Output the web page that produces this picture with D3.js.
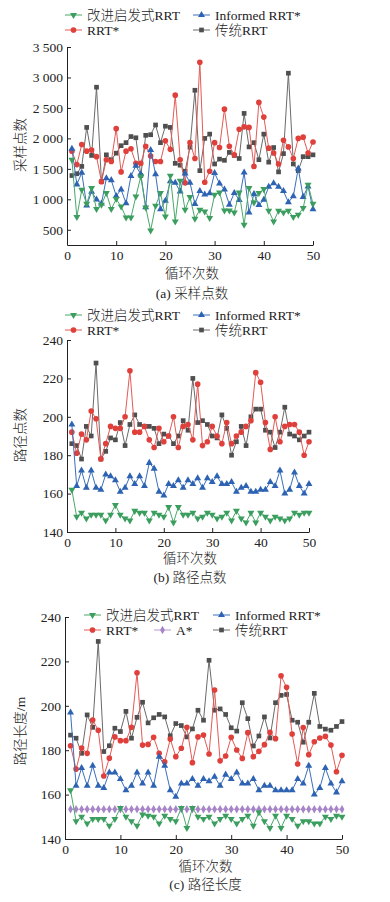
<!DOCTYPE html>
<html>
<head>
<meta charset="utf-8">
<script src="https://cdn.jsdelivr.net/npm/d3@7"></script>
<style>
  body { margin: 0; background: #fff; }
  text { font-family: "Liberation Serif", "Times New Roman", "Noto Sans CJK SC", serif; font-weight: 300; fill: #222; }
</style>
</head>
<body>
<div id="chart"></div>
<script>
const runs = d3.range(1, 51); // 循环次数 1..50

// (a) 采样点数
const aImproved = [1648,709,1156,927,1184,840,910,1102,840,1004,882,702,702,1047,1374,866,489,894,1102,719,1386,637,1304,828,1036,681,828,801,692,1074,1112,817,817,784,1112,583,1184,948,1102,1167,812,637,812,784,812,709,747,856,1238,927];
const aInformed = [1830,1245,1435,900,1125,995,930,1345,1315,1055,1160,935,1383,1550,1410,870,1810,1410,835,975,1295,1273,1130,1425,1270,925,1135,1078,1100,1430,1260,1160,912,1105,990,1440,783,1088,905,992,1205,1265,1205,1135,950,1050,1505,1040,1210,835];
const aRRTstar = [1790,1570,1900,1790,1810,1700,1290,1650,1620,2160,1450,1790,1830,1590,1590,1870,1710,1620,1620,1960,1820,2710,1650,1270,1930,1670,3250,1280,1460,1930,1850,2480,1870,1730,2150,2190,2180,1540,2590,2350,1840,1760,1580,1970,1860,1670,2000,2020,1760,1940];
const aRRT = [1390,1420,1540,2180,1720,2840,1290,1730,1650,1757,1880,1930,2030,2010,1390,2050,2060,2220,1930,2200,2180,1590,1560,1460,1855,2790,1470,2000,2070,1580,1660,1640,1770,1720,1670,2410,1860,1930,1650,2070,1610,1850,1450,1750,3070,1580,1470,1700,1700,1730];

// (b) 路径点数
const bImproved = [162,148,150,147,149,149,149,146,149,154,149,147,146,151,150,150,146,150,149,148,153,145,153,149,149,150,147,148,150,149,147,148,150,146,151,147,145,150,145,150,148,146,148,147,146,147,150,149,150,150];
const bInformed = [196,164,172,163,172,163,162,170,169,167,161,163,169,165,169,164,176,173,161,159,165,164,167,163,167,165,168,163,168,166,169,165,165,166,161,163,164,161,161,162,162,166,164,172,160,162,171,164,160,165];
const bRRTstar = [192,181,191,188,203,199,178,186,195,194,194,200,224,192,192,195,188,184,194,187,190,200,184,195,196,188,217,185,187,195,190,186,197,186,190,192,195,198,223,218,197,183,200,187,195,196,196,192,180,187];
const bRRT = [186,185,178,195,190,228,178,182,189,188,197,185,196,201,196,195,195,194,186,191,190,186,190,198,193,220,197,198,196,190,189,201,194,180,187,195,185,200,204,204,193,192,184,192,205,191,190,188,190,192];

// (c) 路径长度/m
const cImproved = [162,148,150,147,149,149,149,146,149,154,150,148,146,151,150.5,150,147,150.5,149,148,154,145,154,150,149,150,147,149,150.5,149,147,149,150.5,146,152,148,145,150.5,145,150.5,149,146,148,148,147,147,150,149,150.5,150];
const cInformed = [197,164,172,164,173,164,163,170,170,167,162,164,170,165,170,164,177,173,162,159,165,165,167,164,167,166,168,164,169,167,170,165,165,167,162,164,164,162,162,162,162,167,165,173,160,163,172,165,161,166];
const cRRTstar = [182,171.5,181,178.6,193.6,189,168.4,176.4,186,184.3,184.3,190.3,214.9,182.3,182.6,185.8,178.6,174.8,185,177.1,180.9,190.3,174.4,186,186.8,178.3,207.1,175.2,177.4,185.8,180.1,176.3,187.9,177.1,179.5,182.5,188,185.2,213.5,208.3,187.3,173.8,190.2,178,183.8,185.5,186.2,182.3,170.3,177.7];
const cRRT = [186.8,185.4,178.6,195.9,190.3,229,179.4,182,189.9,188.4,197.5,185.4,194.8,201.6,192.3,194.6,196.1,195,186.5,192,191.1,186,189.6,198,193.5,220.5,198,198.6,196.1,190.1,188.6,201.4,194.2,181.9,186.4,195,185.5,201.4,204.7,205.1,193.5,192.6,183.6,192.6,205.6,190.7,189.5,189,190.7,192.9];
const cAstar = runs.map(() => 153.4);

const xTicks = [0, 10, 20, 30, 40, 50];
const aTicks = [500, 1000, 1500, 2000, 2500, 3000, 3500];
const bcTicks = [140, 160, 180, 200, 220, 240];

const names = { improved: "改进启发式RRT", informed: "Informed RRT*", rrtStar: "RRT*", astar: "A*", rrt: "传统RRT" };
const colors = { improved: "#3b9e5e", informed: "#2d63b2", rrtStar: "#e0403b", astar: "#a784c8", rrt: "#4f4f4f" };
const lineColors = { improved: "#4aa86a", informed: "#3a6fbb", rrtStar: "#e45a55", astar: "#b79ad2", rrt: "#6a6a6a" };

const shapes = {
  improved: { type: d3.symbolTriangle, size: 21, rot: 180 },
  informed: { type: d3.symbolTriangle, size: 21, rot: 0 },
  rrtStar: { type: d3.symbolCircle, size: 25, rot: 0 },
  astar: { type: d3.symbolDiamond, size: 20, rot: 0 },
  rrt: { type: d3.symbolSquare, size: 22, rot: 0 }
};

const fmt = d3.formatLocale({ decimal: ".", thousands: " ", grouping: [3], currency: ["", ""] }).format(",");

const svg = d3.select("#chart").append("svg")
  .attr("width", 390)
  .attr("height", 902);

function drawPanel(p) {
  const g = svg.append("g");
  const x = d3.scaleLinear().domain([0, 50]).range([p.left, p.right]);
  const y = d3.scaleLinear().domain(p.yDomain).range([p.bottom, p.top]);

  // axes, ticks point inward
  g.append("g")
    .attr("transform", `translate(0,${p.bottom})`)
    .call(d3.axisBottom(x).tickValues(xTicks).tickSizeInner(-4).tickSizeOuter(0).tickPadding(5))
    .call(a => a.selectAll("text").attr("font-size", 13.5).attr("fill", "#222"));
  g.append("g")
    .attr("transform", `translate(${p.left},0)`)
    .call(d3.axisLeft(y).tickValues(p.ticks).tickFormat(p.tickFormat).tickSizeInner(-4).tickSizeOuter(0).tickPadding(4))
    .call(a => a.selectAll("text").attr("font-size", 13.5).attr("fill", "#222"));
  g.selectAll(".domain, .tick line").attr("stroke", "#222");

  // series
  p.series.forEach(s => {
    const line = d3.line().x((d, i) => x(runs[i])).y(d => y(d));
    g.append("path")
      .datum(s.values)
      .attr("fill", "none")
      .attr("stroke", lineColors[s.key])
      .attr("stroke-width", 1)
      .attr("d", line);
    const sh = shapes[s.key];
    g.selectAll(null)
      .data(s.values)
      .enter().append("path")
      .attr("d", d3.symbol().type(sh.type).size(sh.size))
      .attr("fill", colors[s.key])
      .attr("transform", (d, i) => `translate(${x(runs[i])},${y(d)}) rotate(${sh.rot})`);
  });

  // legend
  p.legend.forEach(l => {
    const lg = g.append("g").attr("transform", `translate(${l.x},${l.y})`);
    lg.append("line").attr("x1", 0).attr("x2", 17).attr("stroke", lineColors[l.key]).attr("stroke-width", 1);
    const sh = shapes[l.key];
    lg.append("path")
      .attr("d", d3.symbol().type(sh.type).size(sh.size))
      .attr("fill", colors[l.key])
      .attr("transform", `translate(8.5,0) rotate(${sh.rot})`);
    lg.append("text")
      .attr("x", 22)
      .attr("dy", "0.35em")
      .attr("font-size", 13.5)
      .attr("fill", "#333")
      .text(names[l.key]);
  });

  // titles
  g.append("text")
    .attr("transform", `translate(20,${p.yTitleY}) rotate(-90)`)
    .attr("text-anchor", "middle")
    .attr("dy", "0.35em")
    .attr("font-size", 13.5)
    .text(p.yTitle);
  g.append("text")
    .attr("x", (p.left + p.right) / 2 + 2)
    .attr("y", p.xTitleY)
    .attr("text-anchor", "middle")
    .attr("dy", "0.35em")
    .attr("font-size", 13.5)
    .text("循环次数");
  g.append("text")
    .attr("x", (p.left + p.right) / 2 + 2)
    .attr("y", p.captionY)
    .attr("text-anchor", "middle")
    .attr("dy", "0.35em")
    .attr("font-size", 13.5)
    .text(p.caption);
}

drawPanel({
  left: 67, right: 313, top: 47, bottom: 245,
  yDomain: [250, 3500], ticks: aTicks, tickFormat: fmt,
  yTitle: "采样点数", yTitleY: 145, xTitleY: 273, captionY: 293, caption: "(a) 采样点数",
  series: [
    { key: "rrt", values: aRRT },
    { key: "rrtStar", values: aRRTstar },
    { key: "informed", values: aInformed },
    { key: "improved", values: aImproved }
  ],
  legend: [
    { key: "improved", x: 65, y: 15 }, { key: "informed", x: 193, y: 15 },
    { key: "rrtStar", x: 65, y: 30 }, { key: "rrt", x: 193, y: 30 }
  ]
});

drawPanel({
  left: 67, right: 309, top: 340, bottom: 532,
  yDomain: [140, 240], ticks: bcTicks, tickFormat: d3.format("d"),
  yTitle: "路径点数", yTitleY: 435, xTitleY: 558, captionY: 577, caption: "(b) 路径点数",
  series: [
    { key: "rrt", values: bRRT },
    { key: "rrtStar", values: bRRTstar },
    { key: "informed", values: bInformed },
    { key: "improved", values: bImproved }
  ],
  legend: [
    { key: "improved", x: 65, y: 315 }, { key: "informed", x: 193, y: 315 },
    { key: "rrtStar", x: 65, y: 330 }, { key: "rrt", x: 193, y: 330 }
  ]
});

drawPanel({
  left: 65, right: 342, top: 617, bottom: 839,
  yDomain: [140, 240], ticks: bcTicks, tickFormat: d3.format("d"),
  yTitle: "路径长度/m", yTitleY: 731, xTitleY: 866, captionY: 884, caption: "(c) 路径长度",
  series: [
    { key: "rrt", values: cRRT },
    { key: "rrtStar", values: cRRTstar },
    { key: "informed", values: cInformed },
    { key: "astar", values: cAstar },
    { key: "improved", values: cImproved }
  ],
  legend: [
    { key: "improved", x: 84, y: 615 }, { key: "informed", x: 213, y: 615 },
    { key: "rrtStar", x: 84, y: 630 }, { key: "astar", x: 154, y: 630 }, { key: "rrt", x: 213, y: 630 }
  ]
});
</script>
</body>
</html>
